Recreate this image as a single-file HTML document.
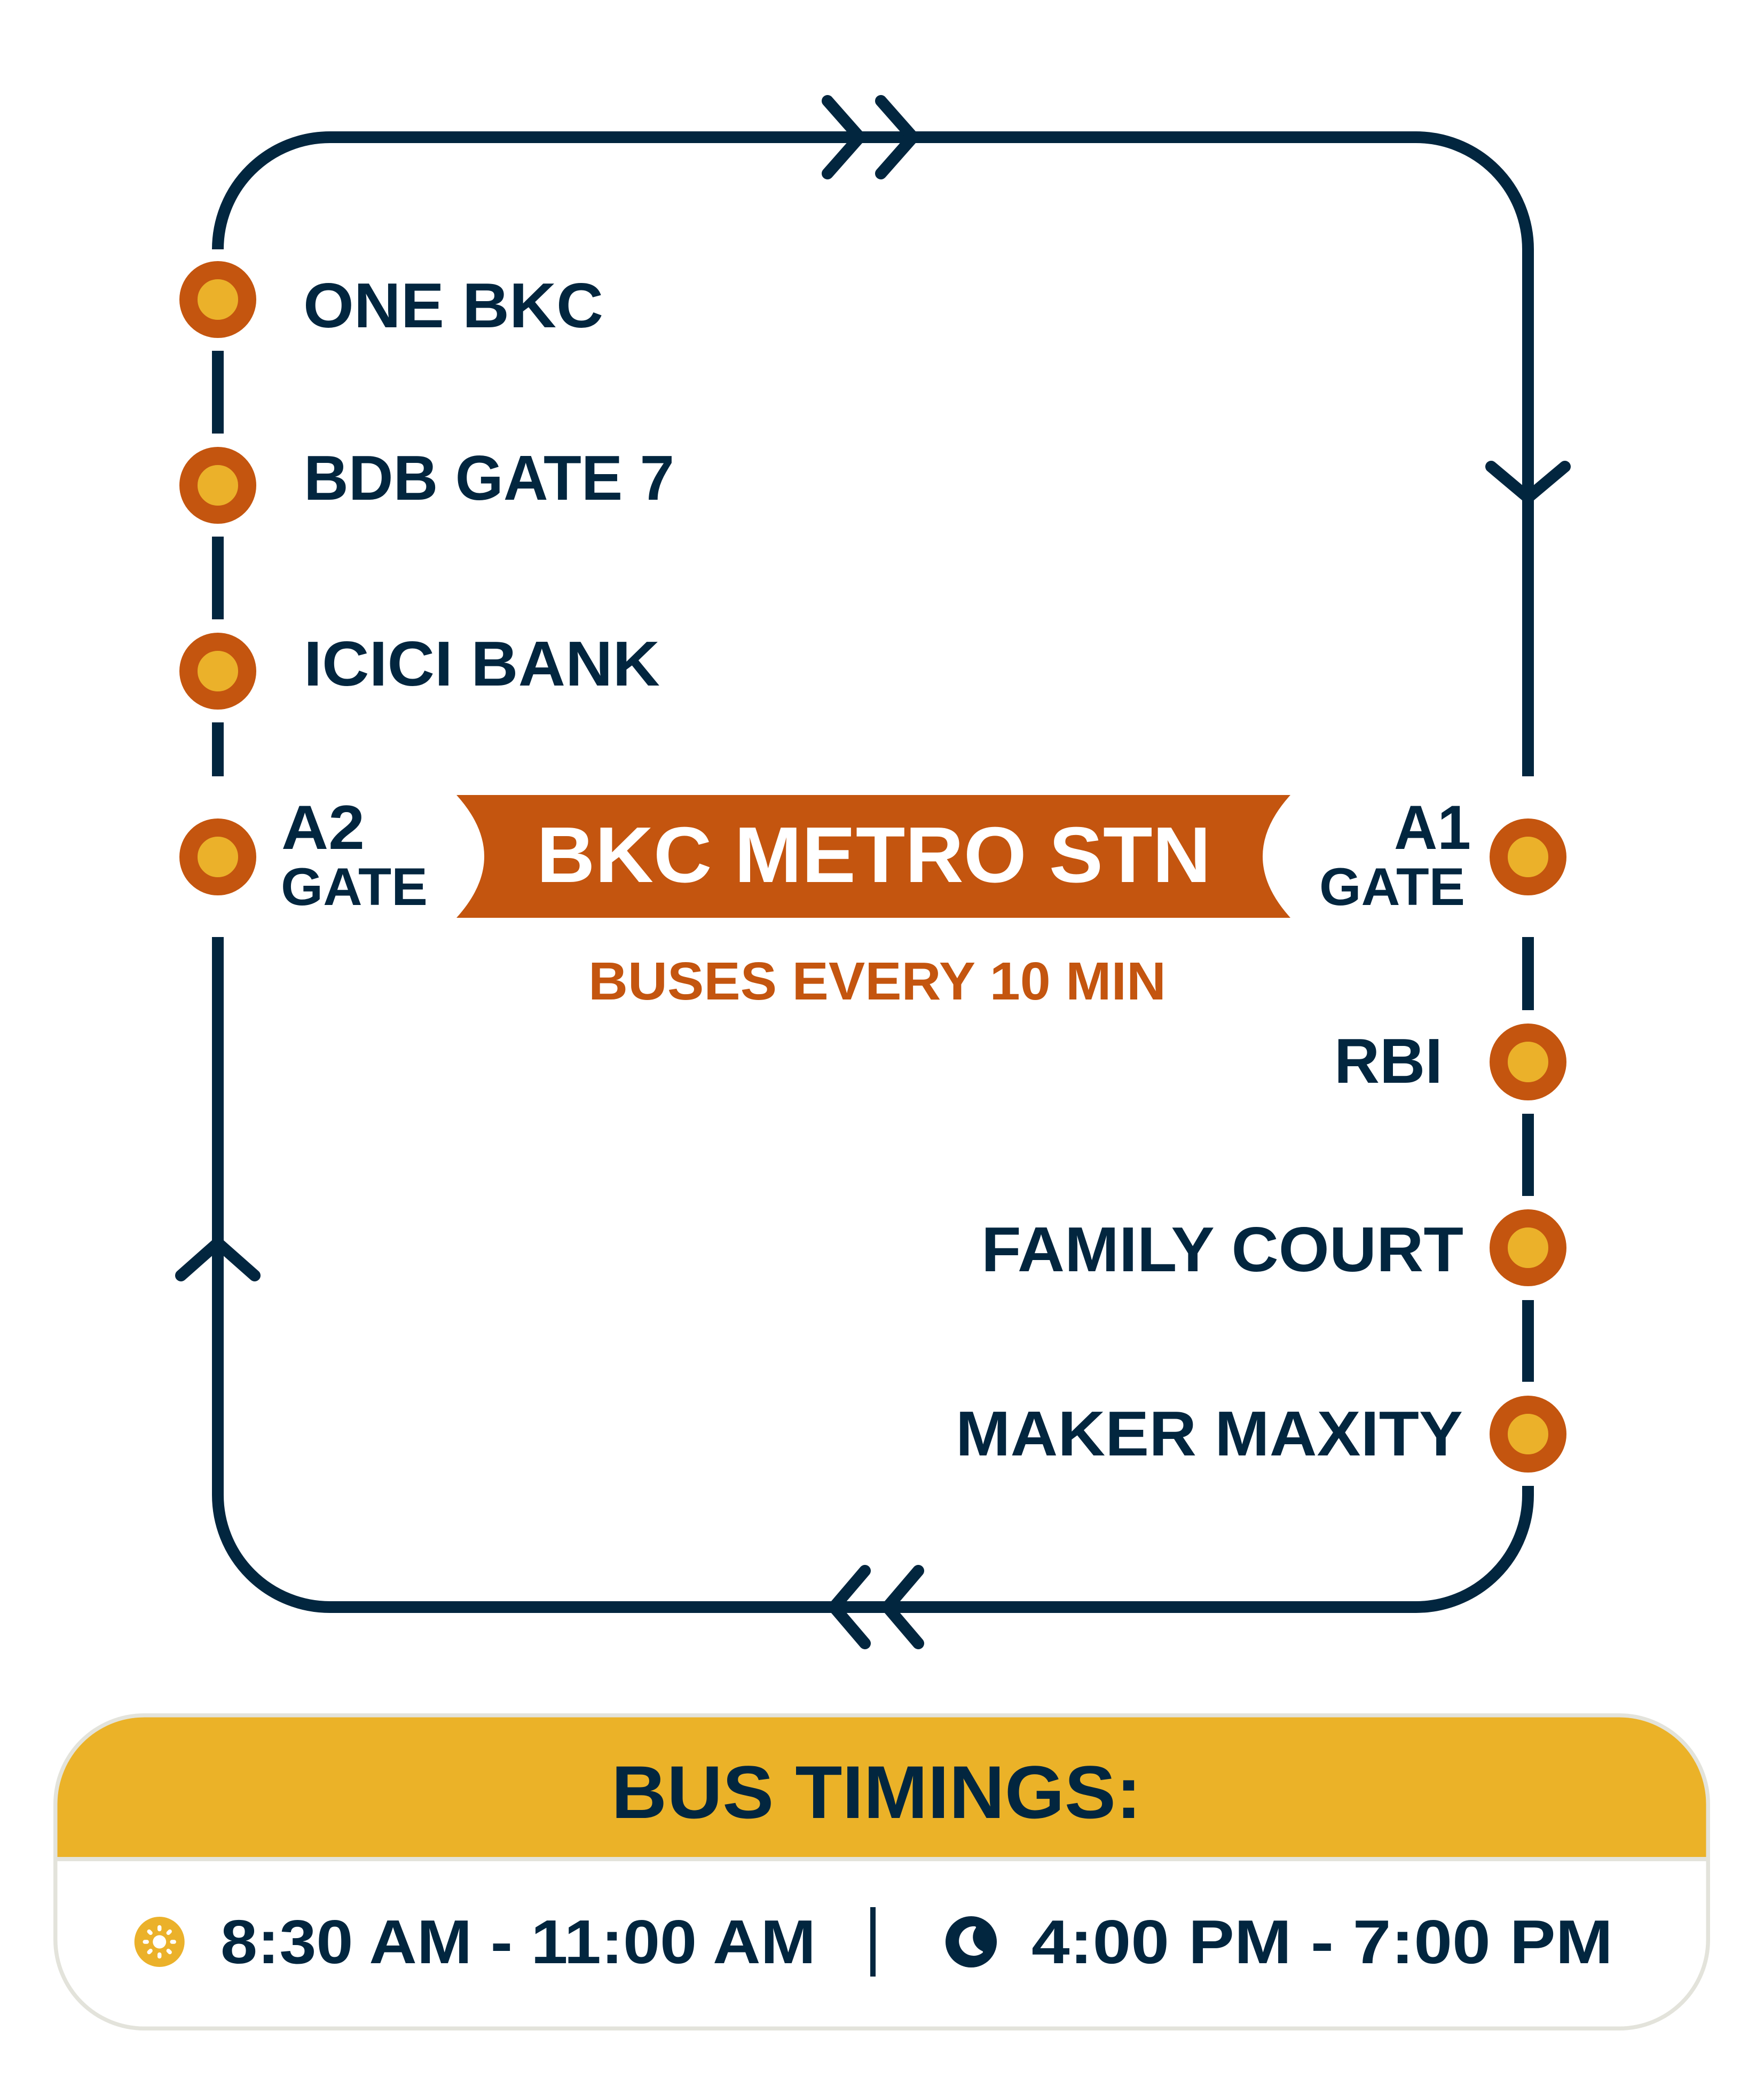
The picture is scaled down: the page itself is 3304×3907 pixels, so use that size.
<!DOCTYPE html>
<html>
<head>
<meta charset="utf-8">
<style>
html,body{margin:0;padding:0;background:#ffffff;}
svg{display:block;}
text{font-family:"Liberation Sans", Arial, sans-serif;font-weight:bold;}
</style>
</head>
<body>
<svg width="3304" height="3907" viewBox="0 0 3304 3907" xmlns="http://www.w3.org/2000/svg">
  <rect x="0" y="0" width="3304" height="3907" fill="#ffffff"/>

  <!-- Route loop -->
  <g fill="none" stroke="#02263F" stroke-width="22" stroke-linecap="butt">
    <path d="M408,467 A210,210 0 0 1 618,257 L2652,257 A210,210 0 0 1 2862,467 L2862,1454"/>
    <path d="M2862,2783 L2862,2800 A210,210 0 0 1 2652,3010 L618,3010 A210,210 0 0 1 408,2800 L408,1755"/>
    <!-- dashes left -->
    <line x1="408" y1="657" x2="408" y2="812"/>
    <line x1="408" y1="1005" x2="408" y2="1160"/>
    <line x1="408" y1="1353" x2="408" y2="1454"/>
    <!-- dashes right -->
    <line x1="2862" y1="1755" x2="2862" y2="1892"/>
    <line x1="2862" y1="2086" x2="2862" y2="2240"/>
    <line x1="2862" y1="2435" x2="2862" y2="2588"/>
  </g>

  <!-- Arrowheads -->
  <g fill="none" stroke="#02263F" stroke-width="22" stroke-linecap="round" stroke-linejoin="miter">
    <polyline points="1550,189 1610,257 1550,325"/>
    <polyline points="1650,189 1710,257 1650,325"/>
    <polyline points="2793,874 2862,932 2931,874"/>
    <polyline points="339,2389 408,2328 477,2389"/>
    <polyline points="1620,2942 1562,3010 1620,3078"/>
    <polyline points="1720,2942 1662,3010 1720,3078"/>
  </g>

  <!-- Station circles -->
  <g fill="#EBB12A" stroke="#C4550F" stroke-width="34">
    <circle cx="408" cy="561" r="55"/>
    <circle cx="408" cy="909" r="55"/>
    <circle cx="408" cy="1257" r="55"/>
    <circle cx="408" cy="1605" r="55"/>
    <circle cx="2862" cy="1605" r="55"/>
    <circle cx="2862" cy="1989" r="55"/>
    <circle cx="2862" cy="2337" r="55"/>
    <circle cx="2862" cy="2686" r="55"/>
  </g>

  <!-- Station labels -->
  <g fill="#02263F">
    <text x="568" y="613" font-size="119" textLength="562" lengthAdjust="spacingAndGlyphs">ONE BKC</text>
    <text x="569" y="936" font-size="119" textLength="694" lengthAdjust="spacingAndGlyphs">BDB GATE 7</text>
    <text x="569" y="1284" font-size="119" textLength="667" lengthAdjust="spacingAndGlyphs">ICICI BANK</text>

    <text x="527" y="1590" font-size="117" textLength="156" lengthAdjust="spacingAndGlyphs">A2</text>
    <text x="526" y="1695" font-size="99" textLength="275" lengthAdjust="spacingAndGlyphs">GATE</text>

    <text x="2611" y="1590" font-size="117" textLength="144" lengthAdjust="spacingAndGlyphs">A1</text>
    <text x="2471" y="1695" font-size="99" textLength="273" lengthAdjust="spacingAndGlyphs">GATE</text>

    <text x="2499" y="2028" font-size="119" textLength="203" lengthAdjust="spacingAndGlyphs">RBI</text>
    <text x="1838" y="2381" font-size="119" textLength="903" lengthAdjust="spacingAndGlyphs">FAMILY COURT</text>
    <text x="1790" y="2726" font-size="119" textLength="950" lengthAdjust="spacingAndGlyphs">MAKER MAXITY</text>
  </g>

  <!-- Banner -->
  <path d="M855,1489 L2417,1489 Q2313,1604 2417,1719 L855,1719 Q959,1604 855,1489 Z" fill="#C4550F"/>
  <text x="1005" y="1652" font-size="148" fill="#ffffff" textLength="1263" lengthAdjust="spacingAndGlyphs">BKC METRO STN</text>
  <text x="1102" y="1872" font-size="100" fill="#C4550F" textLength="1082" lengthAdjust="spacingAndGlyphs">BUSES EVERY 10 MIN</text>

  <!-- Timings box -->
  <rect x="100" y="3209" width="3103" height="594" rx="170" ry="170" fill="#E3E3DB"/>
  <clipPath id="inner">
    <rect x="107.5" y="3216.5" width="3088" height="579" rx="162.5" ry="162.5"/>
  </clipPath>
  <g clip-path="url(#inner)">
    <rect x="100" y="3209" width="3103" height="594" fill="#ffffff"/>
    <rect x="100" y="3209" width="3103" height="269" fill="#EBB228"/>
    <rect x="100" y="3478" width="3103" height="8" fill="#E3E3DB"/>
  </g>
  <text x="1145" y="3405" font-size="140" fill="#02263F" textLength="993" lengthAdjust="spacingAndGlyphs">BUS TIMINGS:</text>

  <!-- Sun icon -->
  <g transform="translate(298.7,3637)">
    <circle cx="0" cy="0" r="47" fill="#EBB12A"/>
    <circle cx="0" cy="0" r="12.5" fill="#ffffff"/>
    <g stroke="#ffffff" stroke-width="7.5" stroke-linecap="round">
      <line x1="0" y1="-23.5" x2="0" y2="-27.5"/>
      <line x1="0" y1="-23.5" x2="0" y2="-27.5" transform="rotate(45)"/>
      <line x1="0" y1="-23.5" x2="0" y2="-27.5" transform="rotate(90)"/>
      <line x1="0" y1="-23.5" x2="0" y2="-27.5" transform="rotate(135)"/>
      <line x1="0" y1="-23.5" x2="0" y2="-27.5" transform="rotate(180)"/>
      <line x1="0" y1="-23.5" x2="0" y2="-27.5" transform="rotate(225)"/>
      <line x1="0" y1="-23.5" x2="0" y2="-27.5" transform="rotate(270)"/>
      <line x1="0" y1="-23.5" x2="0" y2="-27.5" transform="rotate(315)"/>
    </g>
  </g>

  <text x="413" y="3677" font-size="116" fill="#02263F" textLength="1115" lengthAdjust="spacingAndGlyphs">8:30 AM - 11:00 AM</text>

  <!-- Divider -->
  <rect x="1630" y="3572" width="10" height="130" fill="#02263F"/>

  <!-- Moon icon -->
  <circle cx="1819" cy="3637" r="48" fill="#02263F"/>
  <path d="M1826,3610 A25.6,25.6 0 1 0 1839,3656 A30.5,30.5 0 0 1 1826,3610 Z" fill="#ffffff" stroke="#ffffff" stroke-width="4" stroke-linejoin="round"/>

  <text x="1932" y="3677" font-size="116" fill="#02263F" textLength="1089" lengthAdjust="spacingAndGlyphs">4:00 PM - 7:00 PM</text>
</svg>
</body>
</html>
